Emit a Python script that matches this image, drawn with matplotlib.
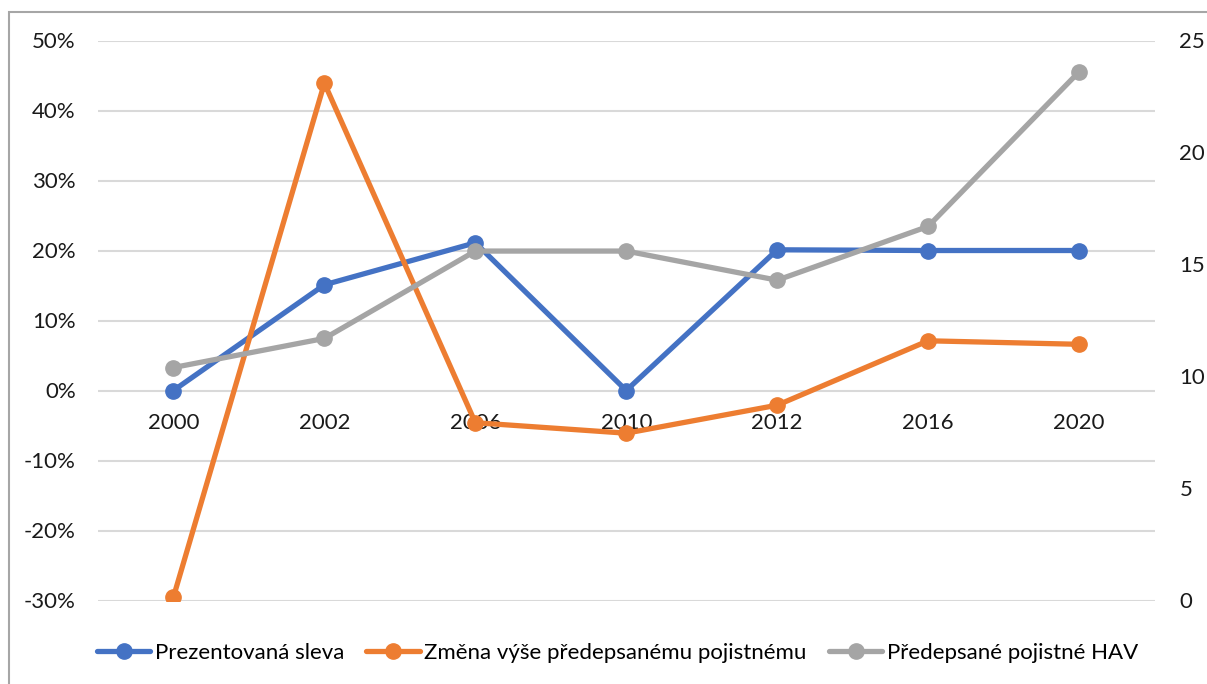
import matplotlib.pyplot as plt
from matplotlib.patches import Rectangle
from matplotlib.ticker import FuncFormatter

plt.rcParams["font.family"] = ["Lato", "DejaVu Sans"]
plt.rcParams["font.size"] = 16

# data
years = ["2000", "2002", "2006", "2010", "2012", "2016", "2020"]
sleva = [0.0, 15.1, 21.1, 0.0, 20.1, 20.0, 20.0]            # %, left axis
zmena = [-29.5, 43.9, -4.6, -6.1, -2.1, 7.1, 6.6]           # %, left axis
pojistne = [10.4, 11.7, 15.6, 15.6, 14.3, 16.7, 23.6]       # right axis

c_blue = "#4472C4"
c_orange = "#ED7D31"
c_gray = "#A5A5A5"

fig = plt.figure(figsize=(12.07, 6.84), dpi=100)
ax = fig.add_axes([98 / 1207, 1 - 600.5 / 684, (1154.5 - 98) / 1207, 560 / 684])
ax2 = ax.twinx()

x = range(len(years))
lw, ms = 3.8, 11
l1, = ax.plot(x, sleva, color=c_blue, lw=lw, marker="o", ms=ms,
              solid_capstyle="round", label="Prezentovaná sleva", zorder=3)
l2, = ax.plot(x, zmena, color=c_orange, lw=lw, marker="o", ms=ms,
              solid_capstyle="round", label="Změna výše předepsanému pojistnému", zorder=4)
l3, = ax2.plot(x, pojistne, color=c_gray, lw=lw, marker="o", ms=ms,
               solid_capstyle="round", label="Předepsané pojistné HAV", zorder=3)

ax.set_xlim(-0.5, len(years) - 0.5)
ax.set_ylim(-30, 50)
ax.set_yticks(range(-30, 51, 10))
ax.yaxis.set_major_formatter(FuncFormatter(lambda v, p: f"{v:.0f}%"))
ax2.set_ylim(0, 25)
ax2.set_yticks(range(0, 26, 5))

ax.grid(axis="y", color="#D9D9D9", lw=1.5)
ax.set_axisbelow(True)

for a in (ax, ax2):
    for s in a.spines.values():
        s.set_visible(False)

# category labels sit next to the 0 % line, as in Excel
ax.spines["bottom"].set_position(("data", 0))
ax.set_xticks(list(x))
ax.set_xticklabels(years)
ax.tick_params(axis="x", length=0, pad=16)
ax.tick_params(axis="y", length=0, pad=16, colors="#1a1a1a")
ax2.tick_params(axis="y", length=0, pad=18, colors="#1a1a1a")
for t in ax.get_xticklabels():
    t.set_color("#1a1a1a")

fig.legend(handles=[l1, l2, l3], loc="center", bbox_to_anchor=(617.5 / 1207, 1 - 653 / 684),
           ncol=3, frameon=False, handlelength=2.4, handletextpad=0.2,
           columnspacing=1.0, fontsize=16)

# chart border
fig.patches.append(Rectangle((9 / 1207, -0.1), 1.2, 1 - 12 / 684 + 0.1,
                             transform=fig.transFigure, fill=False,
                             edgecolor="#A6A6A6", lw=1.5))

fig.savefig("out.png", dpi=100)
